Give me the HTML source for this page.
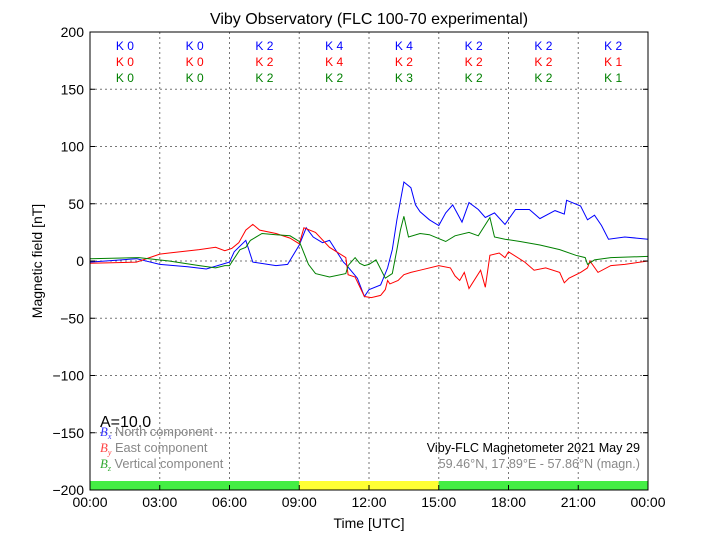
<!DOCTYPE html>
<html><head><meta charset="utf-8"><style>
body{margin:0;background:#fff}
svg{font-family:"Liberation Sans",sans-serif}
</style></head><body>
<svg id="chart" width="720" height="540" viewBox="0 0 720 540" xmlns="http://www.w3.org/2000/svg">
<rect width="720" height="540" fill="#fff"/>
<text x="369" y="24" text-anchor="middle" font-size="16">Viby Observatory (FLC 100-70 experimental)</text>
<g id="grid"></g>
<g id="status"></g>
<g id="series"></g>
<g id="ticks"></g>
<g id="kidx"></g>
<rect x="90" y="32" width="558" height="458" fill="none" stroke="#000" stroke-width="1"/>
<text transform="translate(42,261) rotate(-90)" text-anchor="middle" font-size="14">Magnetic field [nT]</text>
<text x="369" y="528" text-anchor="middle" font-size="14">Time [UTC]</text>
<text x="100" y="427" font-size="16">A=10.0</text>
<g font-size="12.8">
<text x="100" y="436" fill="#888"><tspan fill="#3333ff" font-family="Liberation Serif" font-style="italic">B<tspan font-size="8" dy="3">x</tspan></tspan><tspan dy="-3"> North component</tspan></text>
<text x="100" y="452" fill="#888"><tspan fill="#ff4444" font-family="Liberation Serif" font-style="italic">B<tspan font-size="8" dy="3">y</tspan></tspan><tspan dy="-3"> East component</tspan></text>
<text x="100" y="468" fill="#888"><tspan fill="#33aa33" font-family="Liberation Serif" font-style="italic">B<tspan font-size="8" dy="3">z</tspan></tspan><tspan dy="-3"> Vertical component</tspan></text>
</g>
<text x="640" y="452" text-anchor="end" font-size="12.6">Viby-FLC Magnetometer 2021 May 29</text>
<text x="640" y="468" text-anchor="end" font-size="12.6" fill="#888">59.46°N, 17.89°E - 57.86°N (magn.)</text>
</svg>
<script>
const bxT=[0,2,3,4.2,5,6,6.2,6.7,7,8,8.5,9,9.3,9.6,10,10.3,10.9,11,11.5,11.8,12,12.5,12.8,13,13.2,13.5,13.8,14,14.2,14.6,15,15.3,15.6,16,16.3,16.7,17,17.4,17.85,18.3,18.9,19.35,20,20.4,20.5,21.1,21.4,21.7,22,22.3,23,24];
const bxV=[-1,2,-3,-5,-7,-1,8,18,-1,-4,-3,14,29,21,16,18,-1,-3,-15,-31,-25,-21,-6,10,36,69,64,49,43,36,31,42,49,34,51,45,38,42,32,45,45,37,44,41,53,48,36,40,31,19,21,19];
const byT=[0,2,3,3.4,4.7,5.4,5.8,6.1,6.4,6.7,7,7.3,8,8.6,9,9.2,9.7,10.3,11,11.1,11.4,11.8,12.1,12.5,12.7,12.8,12.9,13.25,13.5,13.8,14.2,15,15.5,15.7,15.9,16.1,16.3,16.8,17,17.2,17.6,17.85,18,18.7,19.1,19.6,20.2,20.4,20.6,21.1,21.4,21.5,21.85,22.4,23,24];
const byV=[-2,-1,6,7,10,12,9,11,16,27,32,27,24,20,15,29,25,12,3,-12,-14,-31,-32,-30,-25,-17,-20,-17,-12,-10,-8,-4,-6,-13,-17,-10,-24,-8,-23,5,7,3,8,-1,-8,-6,-10,-19,-15,-10,-6,0,-10,-4,-3,0];
const bzT=[0,2.1,3.4,4.7,5.4,5.8,6,6.45,6.7,6.9,7.4,8,8.6,9,9.4,9.7,10.3,11,11.1,11.4,11.6,11.8,12,12.3,12.7,13,13.2,13.35,13.5,13.7,14.2,14.6,15.3,15.7,16.3,16.7,17.2,17.4,17.85,18.5,19.35,20.2,20.9,21.3,21.4,21.7,22.4,24];
const bzV=[2,3,0,-4,-6,-4,-4,10,12,18,24,23,22,17,-3,-11,-14,-11,-4,3,-2,-4,-3,1,-15,-11,10,27,39,21,24,23,17,22,25,22,38,21,19,17,14,10,5,3,-3,1,3,4];
const kBlue=[0,0,2,4,4,2,2,2];
const kRed=[0,0,2,4,2,2,2,1];
const kGreen=[0,0,2,2,3,2,2,1];
const yTicks=[200,150,100,50,0,-50,-100,-150,-200];
const xTickLabels=["00:00","03:00","06:00","09:00","12:00","15:00","18:00","21:00","00:00"];
const statusBlocks=[[0,9,"#44ee44"],[9,15,"#ffff33"],[15,24,"#44ee44"]];

const NS="http://www.w3.org/2000/svg";
const X=h=>90+h*558/24, Y=v=>261-v*458/400;
function mk(tag,attrs,parent,txt){const e=document.createElementNS(NS,tag);for(const k in attrs)e.setAttribute(k,attrs[k]);if(txt!==undefined)e.textContent=txt;parent.appendChild(e);return e;}
const grid=document.getElementById('grid'),ticks=document.getElementById('ticks');
yTicks.forEach(v=>{
  const y=Y(v);
  if(v<200&&v>-200){const g=mk('line',{x1:90,x2:648,y1:y,y2:y,stroke:'#777','stroke-dasharray':'2,3','stroke-width':1},grid);
  
  }
  mk('line',{x1:90,x2:95,y1:y,y2:y,stroke:'#000'},ticks);
  mk('line',{x1:643,x2:648,y1:y,y2:y,stroke:'#000'},ticks);
  const t=mk('text',{x:84,y:y+5,'text-anchor':'end','font-size':14},ticks,v===0?'0':(v<0?'\u2212'+(-v):String(v)));
  
  
});
xTickLabels.forEach((s,i)=>{
  const x=X(i*3);
  if(i>0&&i<8){const g=mk('line',{x1:x,x2:x,y1:32,y2:490,stroke:'#777','stroke-dasharray':'2,3','stroke-width':1},grid);
  
  }
  mk('line',{x1:x,x2:x,y1:485,y2:490,stroke:'#000'},ticks);
  const t=mk('text',{x:x,y:507,'text-anchor':'middle','font-size':14},ticks,s);
  
  
});
const st=document.getElementById('status');
statusBlocks.forEach(b=>{
  const r=mk('rect',{x:X(b[0]),y:481,width:X(b[1])-X(b[0]),height:9,fill:b[2]},st);
  
  
});
const ser=document.getElementById('series');
[[bxT,bxV,'#0000ff','bx-line'],[byT,byV,'#ff0000','by-line'],[bzT,bzV,'#008000','bz-line']].forEach(s=>{
  const pts=s[0].map((t,i)=>X(t).toFixed(1)+','+Y(s[1][i]).toFixed(1)).join(' ');
  const p=mk('polyline',{points:pts,fill:'none',stroke:s[2],'stroke-width':1},ser);
  
  
});
const kg=document.getElementById('kidx');
[[kBlue,'#0000ff',50],[kRed,'#ff0000',66],[kGreen,'#008000',82]].forEach(r=>{
  r[0].forEach((k,i)=>{
    const t=mk('text',{x:X(1.5+3*i),y:r[2],'text-anchor':'middle','font-size':12,fill:r[1]},kg,'K '+k);
    
    
  });
});
</script>
</body></html>
